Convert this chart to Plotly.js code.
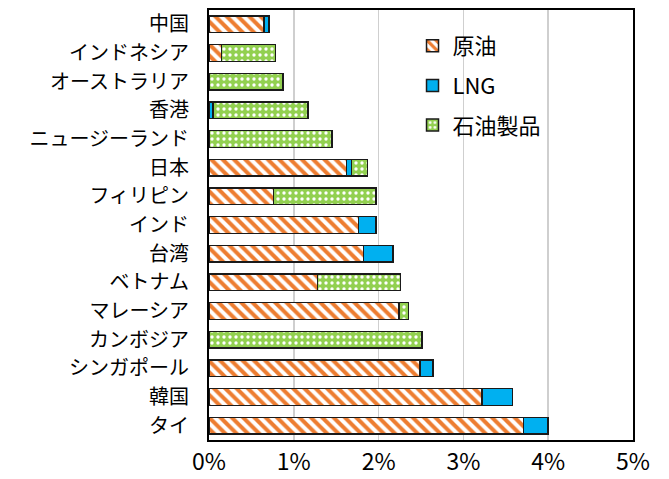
<!DOCTYPE html>
<html>
<head>
<meta charset="utf-8">
<script src="https://cdn.plot.ly/plotly-3.0.1.min.js"></script>
<style>html,body{margin:0;padding:0;background:#fff;}#chart{width:669px;height:479px;}</style>
</head>
<body>
<div id="chart"></div>
<script>
const categories = ['中国','インドネシア','オーストラリア','香港','ニュージーランド','日本','フィリピン','インド','台湾','ベトナム','マレーシア','カンボジア','シンガポール','韓国','タイ'];
const crude    = [0.65, 0.145, null, null, null, 1.62, 0.76, 1.76, 1.82, 1.28, 2.24, null, 2.49, 3.22, 3.71];
const lng      = [0.06, null, null, 0.05, null, 0.06, null, 0.21, 0.35, null, null, null, 0.15, 0.36, 0.29];
const products = [null, 0.64, 0.87, 1.12, 1.45, 0.19, 1.21, null, null, 0.98, 0.11, 2.51, null, null, null];
const seriesNames = ['原油','LNG','石油製品'];
const xTicks = [0,1,2,3,4,5];
const xTickLabels = ['0%','1%','2%','3%','4%','5%'];

const font = '"Noto Sans CJK JP", "Noto Sans", sans-serif';
const outline = {color:'#1a1a1a', width:1.5};

const traces = [
  {type:'bar', orientation:'h', name:seriesNames[0], y:categories, x:crude, legendgroup:'a',
   marker:{color:'#ffffff', line:outline, pattern:{shape:'\\', fgcolor:'#ED7D31', bgcolor:'#ffffff', size:8, solidity:0.5}}},
  {type:'bar', orientation:'h', name:seriesNames[1], y:categories, x:lng, legendgroup:'b',
   marker:{color:'#00B0F0', line:outline}},
  {type:'bar', orientation:'h', name:seriesNames[2], y:categories, x:products, legendgroup:'c',
   marker:{color:'#92D050', line:outline, pattern:{shape:'.', fgcolor:'#ffffff', bgcolor:'#92D050', size:6, solidity:0.25}}}
];

const layout = {
  width:669, height:479,
  margin:{l:209, r:36, t:10, b:39},
  paper_bgcolor:'#ffffff', plot_bgcolor:'#ffffff',
  barmode:'stack', bargap:0.42,
  font:{family:font, color:'#000000'},
  showlegend:true,
  legend:{x:0.48, y:0.965, xanchor:'left', yanchor:'top', font:{size:22, family:font},
          traceorder:'grouped', tracegroupgap:8, bgcolor:'rgba(0,0,0,0)'},
  xaxis:{range:[0,5], tickmode:'array', tickvals:xTicks, ticktext:xTickLabels, tickfont:{size:23, family:font},
         showgrid:true, gridcolor:'#cfcfcf', gridwidth:1.5, zeroline:false,
         showline:true, linecolor:'#000000', linewidth:2, mirror:true, ticks:'', ticklen:0,
         layer:'below traces', fixedrange:true},
  yaxis:{autorange:'reversed', type:'category', tickfont:{size:20, family:font},
         showline:true, linecolor:'#000000', linewidth:2, mirror:true, ticks:'', ticklabelstandoff:14,
         showgrid:false, fixedrange:true}
};

Plotly.newPlot('chart', traces, layout, {displayModeBar:false, staticPlot:true});
</script>
</body>
</html>
